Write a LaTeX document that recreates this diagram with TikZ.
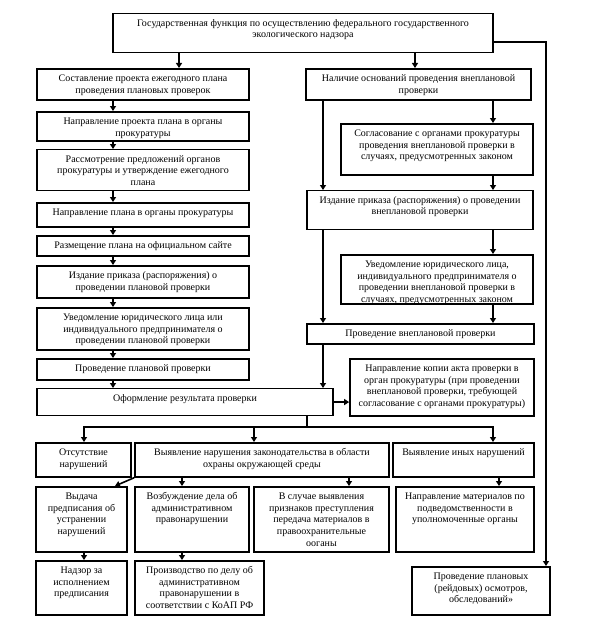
\documentclass[tikz,border=0pt]{standalone}
\usepackage{fontspec}
\setmainfont{Liberation Serif}
\usetikzlibrary{arrows.meta,calc}
\tikzset{
  bthick/.style={draw, line width=1.7pt, inner sep=0pt, anchor=north, font=\fontsize{10}{11.75}\selectfont},
  bthin/.style={draw, line width=1.1pt, inner sep=0pt, anchor=north, font=\fontsize{10}{11.75}\selectfont},
  conn/.style={line width=1.6pt},
  arr/.style={line width=1.6pt, -{Triangle[length=5pt,width=6pt]}},
}
\newcommand\bx[7]{\node[#1, minimum width={(#5-#3)*1pt}, minimum height={(#6-#4)*1pt}] (#2) at ({(#3+#5)/2},#4) {\parbox[t][\dimexpr#6pt-#4pt\relax][t]{\dimexpr#5pt-#3pt\relax}{\centering\rule{0pt}{12.5pt}#7\par}};}
\begin{document}
\begin{tikzpicture}[x=1pt,y=-1pt]
\fill[white] (0,0) rectangle (591,634);
\useasboundingbox (0,0) rectangle (591,634);
% boxes
\bx{bthin}{T}{113}{13}{493}{52}{Государственная функция по осуществлению федерального государственного\\ экологического надзора}
\bx{bthick}{L1}{37}{68}{249}{99}{Составление проекта ежегодного плана\\ проведения плановых проверок}
\bx{bthick}{L2}{37}{111}{249}{140}{Направление проекта плана в органы\\ прокуратуры}
\bx{bthin}{L3}{37}{149}{249}{190}{Рассмотрение предложений органов\\ прокуратуры и утверждение ежегодного\\ плана}
\bx{bthick}{L4}{37}{202}{249}{226}{Направление плана в органы прокуратуры}
\bx{bthick}{L5}{37}{235}{249}{255}{Размещение плана на официальном сайте}
\bx{bthick}{L6}{37}{265}{249}{297}{Издание приказа (распоряжения) о\\ проведении плановой проверки}
\bx{bthick}{L7}{37}{307}{249}{349}{Уведомление юридического лица или\\ индивидуального предпринимателя о\\ проведении плановой проверки}
\bx{bthick}{L8}{37}{358}{249}{379}{Проведение плановой проверки}
\bx{bthin}{O}{37}{388}{333}{415}{Оформление результата проверки}
\bx{bthick}{R1}{306}{68}{531}{99}{Наличие оснований проведения внеплановой\\ проверки}
\bx{bthick}{R2}{341}{123}{533}{174}{Согласование с органами прокуратуры\\ проведения внеплановой проверки в\\ случаях, предусмотренных законом}
\bx{bthin}{R3}{307}{190}{533}{229}{Издание приказа (распоряжения) о проведении\\ внеплановой проверки}
\bx{bthick}{R4}{341}{254}{533}{303}{Уведомление юридического лица,\\ индивидуального предпринимателя о\\ проведении внеплановой проверки в\\ случаях, предусмотренных законом}
\bx{bthick}{R5}{307}{323}{534}{343}{Проведение внеплановой проверки}
\bx{bthick}{K}{350}{358}{534}{415}{Направление копии акта проверки в\\ орган прокуратуры (при проведении\\ внеплановой проверки, требующей\\ согласование с органами прокуратуры)}
\bx{bthick}{N1}{36}{442}{131}{476}{Отсутствие\\ нарушений}
\bx{bthick}{N2}{135}{442}{389}{476}{Выявление нарушения законодательства в области\\ охраны окружающей среды}
\bx{bthick}{N3}{393}{442}{534}{476}{Выявление иных нарушений}
\bx{bthick}{B1}{36}{486}{127}{551}{Выдача\\ предписания об\\ устранении\\ нарушений}
\bx{bthick}{B2}{135}{486}{249}{551}{Возбуждение дела об\\ административном\\ правонарушении}
\bx{bthick}{B3}{254}{486}{389}{551}{В случае выявления\\ признаков преступления\\ передача материалов в\\ правоохранительные\\ ооганы}
\bx{bthick}{D}{396}{486}{534}{551}{Направление материалов по\\ подведомственности в\\ уполномоченные органы}
\bx{bthick}{C1}{36}{560}{127}{614}{Надзор за\\ исполнением\\ предписания}
\bx{bthick}{C2}{135}{560}{264}{614}{Производство по делу об\\ административном\\ правонарушении в\\ соответствии с КоАП РФ}
\bx{bthick}{F}{412}{566}{550}{614}{Проведение плановых\\ (рейдовых) осмотров,\\ обследований»}
% guide coordinates
\coordinate (c1) at (179,0);
\coordinate (tr) at (415,0);
\coordinate (lx) at (113,0);
\coordinate (rl) at (323,0);
\coordinate (rr) at (493,0);
\coordinate (rtop) at (546,42);
\coordinate (bar) at (307,427);
\coordinate (a1) at (84,427);
\coordinate (a2) at (254,427);
\coordinate (a3) at (493,427);
\coordinate (b2x) at (182,0);
\coordinate (b3x) at (349,0);
\coordinate (dx) at (499,0);
\coordinate (e1) at (84,0);
\coordinate (dg) at (115,486);
% connectors
\draw[arr] (T.south -| c1) -- (L1.north -| c1);
\draw[arr] (T.south -| tr) -- (R1.north -| tr);
\draw[arr] (T.east |- rtop) -- (rtop) -- (F.north -| rtop);
\foreach \a/\b in {L1/L2,L2/L3,L3/L4,L4/L5,L5/L6,L6/L7,L7/L8,L8/O}
  \draw[arr] (\a.south -| lx) -- (\b.north -| lx);
\foreach \a/\b in {R1/R3,R3/R5,R5/O}
  \draw[arr] (\a.south -| rl) -- (\b.north -| rl);
\foreach \a/\b in {R1/R2,R2/R3,R3/R4,R4/R5}
  \draw[arr] (\a.south -| rr) -- (\b.north -| rr);
\draw[arr] (O.east) -- (O.east -| K.west);
\draw[conn] (O.south -| bar) -- (bar);
\draw[arr] (a2) -| (N1.north -| a1);
\draw[arr] (a2) -| (N3.north -| a3);
\draw[arr] (a2) -- (N2.north -| a2);
\draw[arr] (N2.south -| b2x) -- (B2.north -| b2x);
\draw[arr] (N2.south -| b3x) -- (B3.north -| b3x);
\draw[arr] (N3.south -| dx) -- (D.north -| dx);
\draw[arr] (N2.south west) -- (dg);
\draw[arr] (B1.south -| e1) -- (C1.north -| e1);
\draw[arr] (B2.south -| b2x) -- (C2.north -| b2x);
\end{tikzpicture}
\end{document}
